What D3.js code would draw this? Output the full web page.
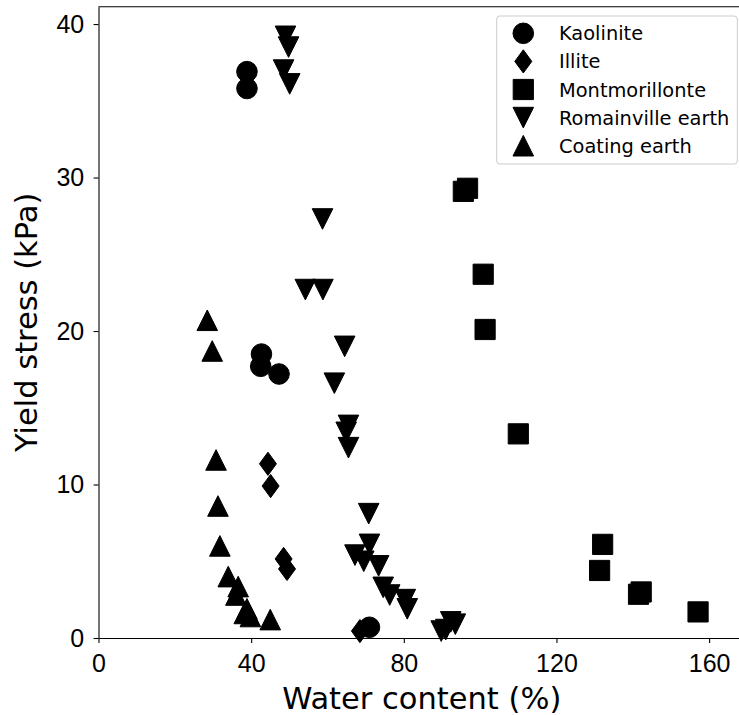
<!DOCTYPE html>
<html>
<head>
<meta charset="utf-8">
<script src="https://cdn.jsdelivr.net/npm/d3@7"></script>
<style>
  body { margin: 0; background: white; }
  svg { font-family: "DejaVu Sans", sans-serif; }
</style>
</head>
<body>
<div id="chart"></div>
<script>
// series: [water content %, yield stress kPa]
const kaolinite = [[38.9, 36.9], [38.9, 35.8], [42.7, 18.5], [42.5, 17.7], [47.3, 17.2], [71.0, 0.7]];
const illite = [[44.4, 11.35], [45.1, 9.9], [48.5, 5.15], [49.4, 4.5], [68.5, 0.45]];
const montmorillonte = [[95.6, 29.1], [96.7, 29.3], [100.8, 23.7], [101.3, 20.1], [110.0, 13.3],
    [132.1, 6.1], [131.3, 4.4], [141.5, 2.85], [142.2, 3.0], [157.1, 1.7]];
const romainville = [[49.0, 39.2], [49.8, 38.5], [48.5, 37.0], [50.1, 36.1], [58.7, 27.3],
    [54.2, 22.7], [58.8, 22.7], [64.5, 19.0], [61.8, 16.6], [65.5, 13.85], [64.9, 13.4],
    [65.5, 12.4], [70.8, 8.1], [71.0, 6.1], [67.2, 5.4], [69.5, 5.0], [73.4, 4.7],
    [74.6, 3.3], [76.3, 2.8], [80.4, 2.5], [80.9, 1.9], [89.8, 0.45], [91.0, 0.55],
    [92.3, 1.05], [93.5, 0.9]];
const coating = [[28.5, 20.7], [29.8, 18.7], [30.8, 11.6], [31.3, 8.6], [31.8, 6.0],
    [34.0, 4.0], [36.6, 3.35], [36.0, 2.8], [38.9, 1.9], [38.2, 1.6], [39.8, 1.4], [45.0, 1.2]];

const seriesNames = ["Kaolinite", "Illite", "Montmorillonte", "Romainville earth", "Coating earth"];
const seriesMarkers = ["circle", "diamond", "square", "down", "up"];
const seriesData = [kaolinite, illite, montmorillonte, romainville, coating];

const xTicks = [0, 40, 80, 120, 160];
const yTicks = [0, 10, 20, 30, 40];

const width = 739;
const height = 715;
//right edge of the axes sits just outside the picture
const margin = { top: 6.7, right: -6, bottom: 77, left: 98.5 };

const svg = d3.select("#chart")
    .append("svg")
    .attr("width", width)
    .attr("height", height);

const xScale = d3.scaleLinear()
    .domain([0, 169.4])
    .range([margin.left, width - margin.right]);

const yScale = d3.scaleLinear()
    .domain([0, 41.13])
    .range([height - margin.bottom, margin.top]);

//marker shapes as paths, sizes in px
function markerPath(type) {
    if (type === "circle") {
        const r = 10.3;
        return "M" + r + ",0A" + r + "," + r + " 0 1,1 " + (-r) + ",0A" + r + "," + r + " 0 1,1 " + r + ",0Z";
    }
    if (type === "square") {
        const h = 10.1;
        return "M" + (-h) + "," + (-h) + "H" + h + "V" + h + "H" + (-h) + "Z";
    }
    if (type === "up") {
        const h = 10.3;
        return "M0," + (-h) + "L" + h + "," + h + "L" + (-h) + "," + h + "Z";
    }
    if (type === "down") {
        const h = 10.3;
        return "M0," + h + "L" + h + "," + (-h) + "L" + (-h) + "," + (-h) + "Z";
    }
    // thin diamond
    const w = 8.5, hh = 11.6;
    return "M0," + (-hh) + "L" + w + ",0L0," + hh + "L" + (-w) + ",0Z";
}

//draw points
seriesData.forEach(function(data, i) {
    svg.append("g")
        .selectAll("path")
        .data(data)
        .enter()
        .append("path")
        .attr("d", markerPath(seriesMarkers[i]))
        .attr("transform", function(d) {
            return "translate(" + xScale(d[0]) + "," + yScale(d[1]) + ")";
        })
        .attr("fill", "black")
        .attr("stroke", "black")
        .attr("stroke-width", 1);
});

//x axis
const xAxis = svg.append("g")
    .attr("transform", "translate(0," + (height - margin.bottom) + ")")
    .call(d3.axisBottom(xScale).tickValues(xTicks).tickSize(4.9).tickPadding(11).tickSizeOuter(0));
xAxis.selectAll("text").style("font-size", "25px").attr("fill", "black");

//y axis
const yAxis = svg.append("g")
    .attr("transform", "translate(" + margin.left + ",0)")
    .call(d3.axisLeft(yScale).tickValues(yTicks).tickSize(4.9).tickPadding(9.4).tickSizeOuter(0));
yAxis.selectAll("text").style("font-size", "25px").attr("fill", "black");

svg.selectAll(".domain").attr("stroke", "black").attr("stroke-width", 1.1);
svg.selectAll(".tick line").attr("stroke", "black").attr("stroke-width", 1.1);

//top spine
svg.append("line")
    .attr("x1", margin.left)
    .attr("x2", width - margin.right)
    .attr("y1", margin.top)
    .attr("y2", margin.top)
    .attr("stroke", "black")
    .attr("stroke-width", 1.1);

//axis labels
svg.append("text")
    .attr("x", (xScale.range()[0] + xScale.range()[1]) / 2)
    .attr("y", 709)
    .attr("text-anchor", "middle")
    .style("font-size", "30.5px")
    .text("Water content (%)");

svg.append("text")
    .attr("transform", "rotate(-90)")
    .attr("x", -(yScale.range()[0] + yScale.range()[1]) / 2)
    .attr("y", 36.5)
    .attr("text-anchor", "middle")
    .style("font-size", "30.5px")
    .text("Yield stress (kPa)");

//legend
const legend = svg.append("g");

legend.append("rect")
    .attr("x", 496.7)
    .attr("y", 16)
    .attr("width", 240.6)
    .attr("height", 148)
    .attr("rx", 3)
    .attr("fill", "white")
    .attr("fill-opacity", 0.8)
    .attr("stroke", "#cccccc")
    .attr("stroke-width", 1);

seriesNames.forEach(function(name, i) {
    const ly = 33.3 + i * 28.1;
    legend.append("path")
        .attr("d", markerPath(seriesMarkers[i]))
        .attr("transform", "translate(523.3," + ly + ")")
        .attr("fill", "black")
        .attr("stroke", "black")
        .attr("stroke-width", 1);
    legend.append("text")
        .attr("x", 559)
        .attr("y", ly + 7)
        .style("font-size", "19.4px")
        .text(name);
});
</script>
</body>
</html>
